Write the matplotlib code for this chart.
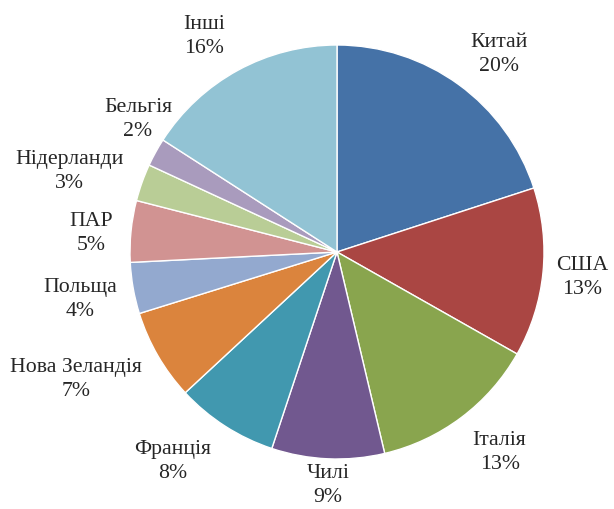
import matplotlib.pyplot as plt
import numpy as np

plt.rcParams['font.family'] = ['Liberation Serif', 'DejaVu Serif']

countries = ['Китай', 'США', 'Італія', 'Чилі', 'Франція', 'Нова Зеландія',
             'Польща', 'ПАР', 'Нідерланди', 'Бельгія', 'Інші']
shares = [20.0, 13.2, 13.1, 8.8, 8.0, 7.1, 4.0, 4.8, 2.9, 2.2, 15.9]
pct_labels = ['20%', '13%', '13%', '9%', '8%', '7%', '4%', '5%', '3%', '2%', '16%']

colors = ['#4572A7', '#AA4643', '#89A54E', '#71588F', '#4198AF', '#DB843D',
          '#93A9CF', '#D19392', '#B9CD96', '#A99BBD', '#92C3D4']
# label placement: distance from centre (radii) and angle shift from the slice middle (deg)
label_dist = [1.24, 1.19, 1.24, 1.12, 1.28, 1.40, 1.26, 1.19, 1.35, 1.16, 1.23]
label_shift = [-3, 0.4, 2.4, 0.3, -5.6, -4.4, 0, 0.9, 2.5, -5.2, 2.8]

fig = plt.figure(figsize=(6.14, 5.09), dpi=100)
ax = fig.add_axes([0, 0, 1, 1])

wedges, _ = ax.pie(shares, colors=colors, startangle=90, counterclock=False,
                   wedgeprops=dict(edgecolor='white', linewidth=1))

for w, name, pct, d, s in zip(wedges, countries, pct_labels, label_dist, label_shift):
    ang = np.deg2rad((w.theta1 + w.theta2) / 2 + s)
    ax.text(d * np.cos(ang), d * np.sin(ang) - 0.01, name + '\n' + pct,
            ha='center', va='center', fontsize=15.7, color='#262626',
            linespacing=1.35)

ax.set_xlim(-337 / 207, (614 - 337) / 207)
ax.set_ylim(-(509 - 252) / 207, 252 / 207)
ax.set_aspect('equal')
ax.axis('off')

plt.savefig('out.png', dpi=100)
